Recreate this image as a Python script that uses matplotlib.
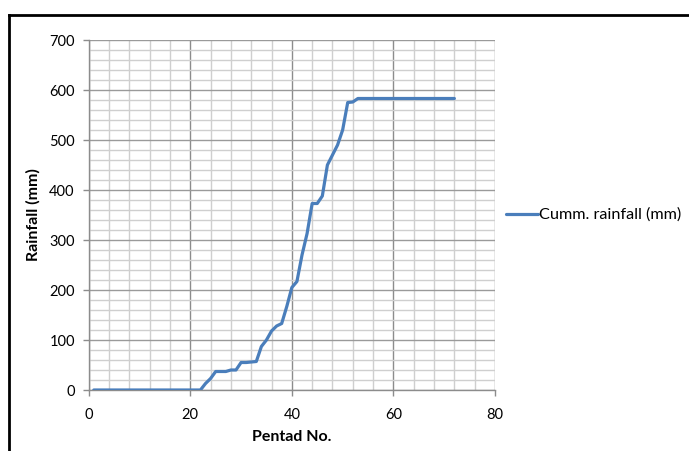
import numpy as np
import matplotlib
matplotlib.use('Agg')
import matplotlib.pyplot as plt
from matplotlib.lines import Line2D
from matplotlib.ticker import MultipleLocator

plt.rcParams['font.family'] = ['Lato', 'DejaVu Sans']

# pentad numbers 1..72 and cumulative rainfall
pentad = list(range(1, 73))
cumm_rainfall = ([0] * 22 +
                 [13, 23, 37, 37, 37, 40, 40, 55, 55, 56,
                  57, 87, 100, 118, 128, 133, 167, 205, 217, 270,
                  313, 373, 373, 388, 450, 470, 490, 520, 575, 576,
                  583] +
                 [583] * 19)

fig = plt.figure(figsize=(6.89, 4.51), dpi=100)
ax = fig.add_axes([88.7 / 689, 61 / 451, 406.3 / 689, 350 / 451])

ax.plot(pentad, cumm_rainfall, color='#4a7ebb', linewidth=2.3,
        solid_capstyle='round', solid_joinstyle='round',
        label='Cumm. rainfall (mm)', zorder=3)

ax.set_xlim(0, 80)
ax.set_ylim(0, 700)
ax.xaxis.set_major_locator(MultipleLocator(20))
ax.xaxis.set_minor_locator(MultipleLocator(4))
ax.yaxis.set_major_locator(MultipleLocator(100))
ax.yaxis.set_minor_locator(MultipleLocator(20))

ax.grid(True, which='major', axis='x', color='#8c8c8c', linewidth=1.0)
ax.grid(True, which='major', axis='y', color='#9a9a9a', linewidth=1.0)
ax.grid(True, which='minor', color='#cfcfcf', linewidth=1.0)
ax.set_axisbelow(True)

for side in ['top', 'right']:
    ax.spines[side].set_visible(False)
for side in ['left', 'bottom']:
    ax.spines[side].set_color('#8c8c8c')
    ax.spines[side].set_linewidth(1.0)

ax.tick_params(which='major', direction='out', length=4, width=1,
               color='#8c8c8c', labelsize=10.5, pad=6)
ax.tick_params(which='minor', length=0)
ax.tick_params(axis='x', pad=9)

ax.set_xlabel('Pentad No.', fontsize=11.5, fontweight='bold', labelpad=6)
ax.set_ylabel('Rainfall (mm)', fontsize=11.5, fontweight='bold', labelpad=6)

ax.legend(loc='center left', bbox_to_anchor=(0.99, 0.5), frameon=False,
          fontsize=11.7, handlelength=2.0, handletextpad=0.05)

# chart border (top and left edges visible in the crop)
fig.add_artist(Line2D([9 / 689, 1.0], [1 - 15 / 451, 1 - 15 / 451],
                      transform=fig.transFigure, color='black', linewidth=2))
fig.add_artist(Line2D([9 / 689, 9 / 689], [0, 1 - 15 / 451],
                      transform=fig.transFigure, color='black', linewidth=2))

plt.savefig('out.png', dpi=100)
